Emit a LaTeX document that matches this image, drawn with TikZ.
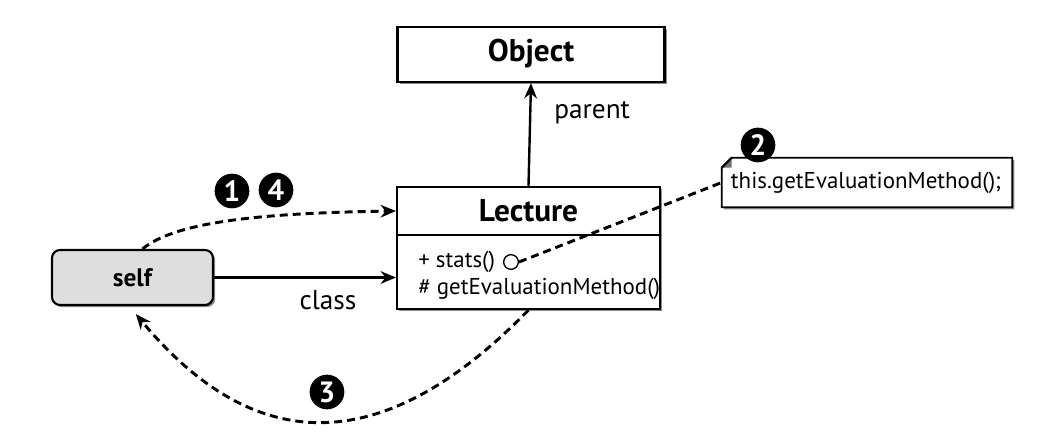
\documentclass[tikz,border=0pt]{standalone}
\usepackage{fontspec}
\setmainfont{PT Sans}
\usetikzlibrary{arrows.meta,shadows}
\begin{document}
\begin{tikzpicture}[x=0.75pt,y=-0.75pt,
  shade/.style={drop shadow={shadow xshift=1.6pt, shadow yshift=-1.6pt, fill=black, opacity=0.45}},
  box/.style={draw=black, line width=1.6pt, fill=white, shade, inner sep=0pt},
  selfbox/.style={draw=black, line width=1.6pt, fill=black!13, rounded corners=6pt, shade, inner sep=0pt,
    minimum width=120.75pt, minimum height=41.25pt, font=\fontsize{19}{22}\selectfont\bfseries},
  title/.style={font=\fontsize{23.5}{26}\selectfont\bfseries},
  txt/.style={font=\fontsize{17.2}{20}\selectfont, inner sep=0pt},
  label/.style={font=\fontsize{20.5}{24}\selectfont, inner sep=0pt},
  step num/.style={circle, fill=black, inner sep=0pt, minimum size=26pt, text=white,
    font=\fontsize{22}{22}\selectfont\bfseries},
  conn/.style={line width=1.8pt, -{Stealth[length=11.5pt, width=9.5pt]}},
  dashline/.style={line width=2.2pt, dash pattern=on 6pt off 3.75pt},
  dconn/.style={dashline, -{Stealth[length=11.5pt, width=9.5pt]}},
]
\useasboundingbox (0,0) rectangle (1046,434);

% class boxes
\node[box, minimum width=200.25pt, minimum height=41.25pt] (object) at (531,54.5) {};
\node[title] (objtitle) at (531,54) {Object};

\node[box, minimum width=197.25pt, minimum height=91.5pt] (lecture) at (528.5,248) {};
\coordinate (divy) at (0,235);
\draw[line width=1.4pt] (lecture.west |- divy) -- (lecture.east |- divy);
\node[title] (lectitle) at (528.5,211) {Lecture};
\node[txt, anchor=west] (stats) at (418,262) {+ stats()};
\node[circle, draw=black, line width=1pt, minimum size=11pt, inner sep=0pt] (hook) at (511,262) {};
\node[txt, anchor=west] (getev) at (418,289) {\# getEvaluationMethod()};

% self object
\node[selfbox] (self) at (132.5,277.5) {self};

% note with folded corner
\node[txt, minimum width=217.5pt, minimum height=36.75pt] (note) at (867,182.5) {};
\draw[line width=1.4pt, fill=white, shade]
  ([yshift=-7.5pt]note.north west) -- ([xshift=7.5pt]note.north west) -- (note.north east)
  -- (note.south east) -- (note.south west) -- cycle;
\fill[black!55] ([yshift=-7.5pt]note.north west) -- ([xshift=7.5pt]note.north west)
  -- ([xshift=7.5pt,yshift=-7.5pt]note.north west) -- cycle;
\draw[line width=1.4pt] ([yshift=-7.5pt]note.north west) -- ([xshift=7.5pt]note.north west);
\node[txt] (notetext) at (866,183) {this.getEvaluationMethod();};

% connectors
\draw[conn] (lecture.north) -- (object.south);
\node[label, anchor=west] (parent) at (554,113) {parent};

\draw[conn] (self.east) -- (self.east -| lecture.west);
\node[label] (class) at (328,300) {class};

\draw[dconn] ([xshift=7.5pt]self.north) .. controls (175,222) and (260,213) .. (lecture.west |- lectitle);

\draw[dashline] (hook.east) -- (note.west);

\draw[dconn] (lecture.south) .. controls (392,450) and (262,466) .. ([xshift=2.5pt,yshift=-6pt]self.south);

% step numbers
\node[step num] (n1) at (232,191) {1};
\node[step num] (n4) at (276,190) {4};
\node[step num] (n2) at (758,145) {2};
\node[step num] (n3) at (327,392) {3};
\end{tikzpicture}
\end{document}
